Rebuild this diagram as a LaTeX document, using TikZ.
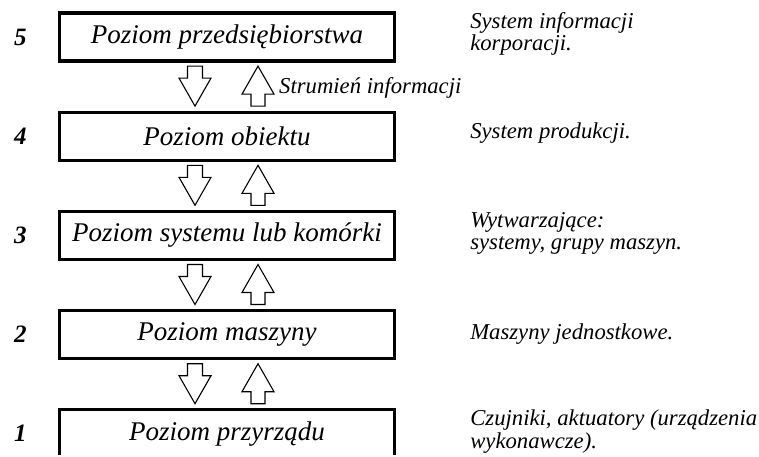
\documentclass[tikz,border=0pt]{standalone}
\usepackage{fontspec}
\setmainfont{Liberation Serif}
\usetikzlibrary{positioning,calc}
\begin{document}
\begin{tikzpicture}[x=1pt, y=-1pt,
  levelbox/.style={draw, line width=3.2pt, minimum width=335pt, minimum height=48pt, inner sep=0pt, font=\fontsize{27}{32}\selectfont\itshape},
  levelnum/.style={inner sep=0pt, font=\fontsize{25}{28}\selectfont\bfseries\itshape},
  desc/.style={inner sep=0pt, align=left, font=\fontsize{22.7}{22.5}\selectfont\itshape},
  flow/.style={draw, line width=1.1pt, fill=white, line join=miter}]
\useasboundingbox (0,0) rectangle (759,457);
\clip (0,0) rectangle (759,454);

\node[levelbox] (b5) at (227,37) {Poziom przedsiębiorstwa};
\node[levelbox, below=48pt of b5] (b4) {Poziom obiektu};
\node[levelbox, below=48pt of b4] (b3) {Poziom systemu lub komórki};
\node[levelbox, below=48pt of b3] (b2) {Poziom maszyny};
\node[levelbox, below=48pt of b2, minimum height=60pt] (b1) {};
\node[font=\fontsize{27}{32}\selectfont\itshape, inner sep=0pt] (t1) at ($(b2)+(0,99)$) {Poziom przyrządu};

\node[levelnum, left=31pt of b5] (n5) {5};
\node[levelnum, left=31pt of b4] (n4) {4};
\node[levelnum, left=31pt of b3] (n3) {3};
\node[levelnum, left=31pt of b2] (n2) {2};
\node[levelnum] (n1) at ($(n2)+(0,99)$) {1};

\node[desc, right=74pt of b5, yshift=3pt] (d5) {System informacji\\korporacji.};
\node[desc, right=74pt of b4, yshift=3pt] (d4) {System produkcji.};
\node[desc, right=74pt of b3, yshift=2pt] (d3) {Wytwarzające:\\systemy, grupy maszyn.};
\node[desc, right=74pt of b2, yshift=1pt] (d2) {Maszyny jednostkowe.};
\node[desc, anchor=west, yshift=1pt] (d1) at ($(d2.west)+(0,99)$) {Czujniki, aktuatory (urządzenia\\wykonawcze).};

\foreach \hi/\lo in {b5/b4, b4/b3, b3/b2, b2/b1}{
  \coordinate (m-\hi) at ($(\hi.south)!0.5!(\lo.north)$);
  \draw[flow, shift={(m-\hi)}] (-39.5,-20.5) -- (-24.5,-20.5) -- (-24.5,-8.5) -- (-16,-8.5)
    -- (-32,19.5) -- (-48,-8.5) -- (-39.5,-8.5) -- cycle;
  \draw[flow, shift={(m-\hi)}] (31,-20.5) -- (47,7.5) -- (38,7.5) -- (38,19.5)
    -- (24,19.5) -- (24,7.5) -- (15,7.5) -- cycle;
}
\node[desc, anchor=base west] (flowlbl) at ($(m-b5)+(52,7)$) {Strumień informacji};
\end{tikzpicture}
\end{document}
